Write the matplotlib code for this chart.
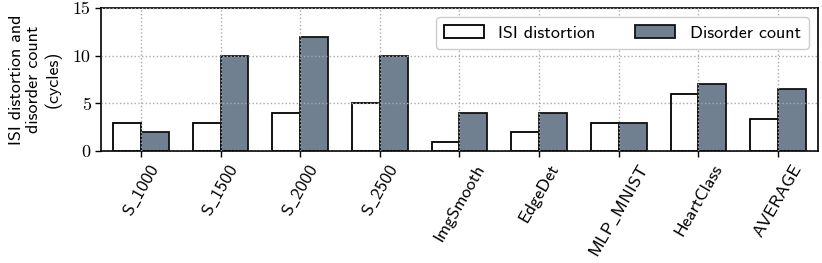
import matplotlib
matplotlib.use("Agg")
import matplotlib.pyplot as plt
import numpy as np

categories = ["S_1000", "S_1500", "S_2000", "S_2500", "ImgSmooth", "EdgeDet",
              "MLP_MNIST", "HeartClass", "AVERAGE"]
isi_distortion = [3, 3, 4, 5, 1, 2, 3, 6, 3.375]
disorder_count = [2, 10, 12, 10, 4, 4, 3, 7, 6.5]
yticks = [0, 5, 10, 15]

sans = ['cmss10', 'DejaVu Sans']
plt.rcParams['axes.unicode_minus'] = False
plt.rcParams['mathtext.fontset'] = 'cm'

fig = plt.figure(figsize=(8.22, 2.63), dpi=100)
ax = fig.add_axes([0.123, 0.425, 0.872, 0.545])

x = np.arange(len(categories))
w = 0.35
ax.bar(x - w/2, isi_distortion, w, color='white', edgecolor='black', linewidth=1.3,
       label='ISI distortion', zorder=2)
ax.bar(x + w/2, disorder_count, w, color='#708090', edgecolor='#111111', linewidth=1.3,
       label='Disorder count', zorder=2)

ax.set_xlim(-0.5, len(categories) - 0.5)
ax.set_ylim(0, 15)
ax.set_yticks(yticks)
ax.set_yticklabels([str(v) for v in yticks], family='cmr10', fontsize=13)
ax.set_xticks(x)
ax.set_xticklabels([c.replace('_', r'$\_$') for c in categories], rotation=60,
                   ha='center', family=sans, fontsize=13)
ax.grid(True, linestyle=':', color='#aaaaaa', linewidth=1.0, zorder=3)
ax.set_axisbelow(False)
for s in ax.spines.values():
    s.set_linewidth(1.2)
ax.tick_params(width=1.0, length=4)

ax.set_ylabel("ISI distortion and\ndisorder count\n(cycles)", family=sans, fontsize=13,
              linespacing=1.2, labelpad=8)

leg = ax.legend(loc='upper right', ncol=2, prop={'family': sans, 'size': 13},
                frameon=True, fancybox=True, edgecolor='#cccccc', framealpha=1.0,
                handlelength=2.2, columnspacing=2.2, borderpad=0.45)
leg.set_zorder(5)

fig.savefig("out.png", dpi=100)
